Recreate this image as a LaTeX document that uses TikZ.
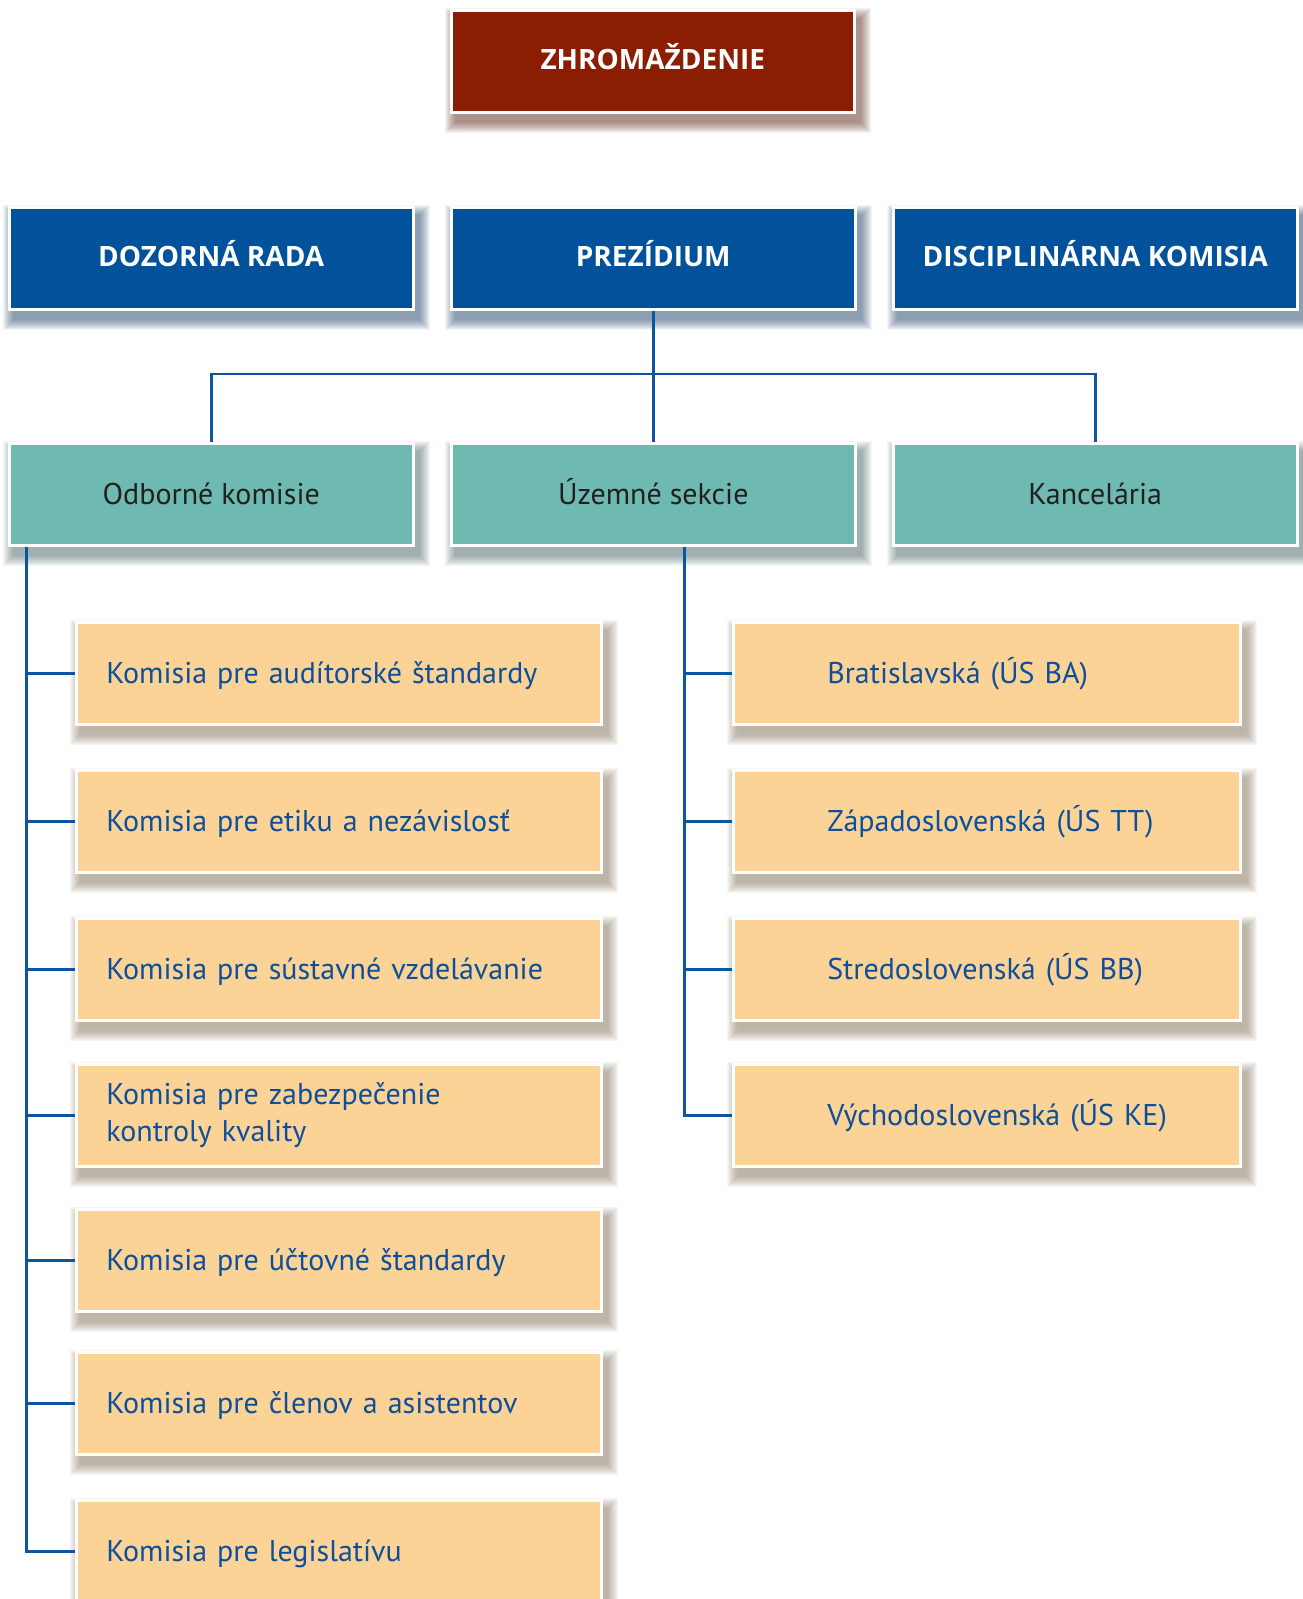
\documentclass[tikz,border=0pt]{standalone}
\usepackage{fontspec}
\setmainfont{PT Sans}
\newfontfamily\hdfont{Open Sans}
\usetikzlibrary{calc}
\definecolor{zred}{RGB}{138,29,2}
\definecolor{zblue}{RGB}{2,82,155}
\definecolor{zteal}{RGB}{111,185,179}
\definecolor{zpeach}{RGB}{252,211,150}
\definecolor{zline}{RGB}{12,85,160}
\definecolor{ztext}{RGB}{13,79,154}
\definecolor{zdark}{RGB}{35,31,32}
\pgfdeclarelayer{bg}
\pgfsetlayers{bg,main}
\newcommand\boxshadow[2]{%
  \foreach \e in {0,1,...,10}{%
    \fill[#2,opacity=0.05] ($(#1.north west)+(5-\e,9-\e)$) rectangle ($(#1.south east)+(5+\e,9+\e)$);
  }}
\tikzset{
  box/.style={draw=white, line width=2.5pt, minimum height=102pt, inner sep=0pt, anchor=north west},
  hfont/.style={font=\hdfont\bfseries\fontsize{28}{34}\selectfont, text height=20pt, text depth=3pt},
  nfont/.style={font=\fontsize{30}{37}\selectfont},
  oneline/.style={text height=28pt, text depth=8pt},
  redbox/.style={box, fill=zred, minimum width=403pt, text=white, hfont},
  bluebox/.style={box, fill=zblue, minimum width=404pt, text=white, hfont},
  tealbox/.style={box, fill=zteal, minimum width=404pt, text=zdark, nfont, oneline},
  lbox/.style={box, fill=zpeach, minimum width=525pt, text=ztext, text width=465pt, align=left, nfont, oneline},
  rbox/.style={box, fill=zpeach, minimum width=507pt, text=ztext, text width=319pt, align=left, nfont, oneline},
  conn/.style={draw=zline, line width=2.8pt},
}
\begin{document}
\begin{tikzpicture}[x=1pt,y=-1pt]
\useasboundingbox (0,0) rectangle (1303,1599);
% top
\node[redbox] (zh) at (450,9) {ZHROMAŽDENIE};
\node[bluebox] (dr) at (8,206) {DOZORNÁ RADA};
\node[bluebox] (pr) at (450,206) {PREZÍDIUM};
\node[bluebox] (dk) at (892,206) {DISCIPLINÁRNA KOMISIA};
\node[tealbox] (ok) at (8,442) {Odborné komisie};
\node[tealbox] (uz) at (450,442) {Územné sekcie};
\node[tealbox] (ka) at (892,442) {Kancelária};
% left column
\node[lbox] (k1) at (75,621) {Komisia pre audítorské štandardy};
\node[lbox] (k2) at (75,769) {Komisia pre etiku a nezávislosť};
\node[lbox] (k3) at (75,917) {Komisia pre sústavné vzdelávanie};
\node[lbox, text height=, text depth=] (k4) at (75,1063) {Komisia pre zabezpečenie\\kontroly kvality};
\node[lbox] (k5) at (75,1208) {Komisia pre účtovné štandardy};
\node[lbox] (k6) at (75,1351) {Komisia pre členov a asistentov};
\node[lbox] (k7) at (75,1499) {Komisia pre legislatívu};
% right column
\node[rbox] (r1) at (732,621) {\mbox{Bratislavská (ÚS BA)}};
\node[rbox] (r2) at (732,769) {\mbox{Západoslovenská (ÚS TT)}};
\node[rbox] (r3) at (732,917) {\mbox{Stredoslovenská (ÚS BB)}};
\node[rbox] (r4) at (732,1063) {\mbox{Východoslovenská (ÚS KE)}};
% shadows
\begin{pgfonlayer}{bg}
\fill[white] (0,0) rectangle (1303,1599);
\boxshadow{zh}{zred!55!black}
\foreach \n in {dr,pr,dk}{\boxshadow{\n}{zblue!55!black}}
\foreach \n in {ok,uz,ka}{\boxshadow{\n}{zteal!45!black}}
\foreach \n in {k1,k2,k3,k4,k5,k6,k7,r1,r2,r3,r4}{\boxshadow{\n}{zpeach!45!black}}
\end{pgfonlayer}
% connectors
\coordinate (hy) at (651,374);
\draw[conn] (pr.south) -- (uz.north);
\draw[conn] (ok.north) -- (ok.north |- hy) -| (ka.north);
\coordinate (ls) at ([xshift=18.5pt]ok.south west);
\draw[conn] (ls) |- (k7.west);
\foreach \k in {k1,k2,k3,k4,k5,k6}{\draw[conn] (\k.west) -- (\k.west -| ls);}
\coordinate (rs) at ([xshift=31pt]uz.south);
\draw[conn] (rs) |- (r4.west);
\foreach \r in {r1,r2,r3}{\draw[conn] (\r.west) -- (\r.west -| rs);}
\end{tikzpicture}
\end{document}
